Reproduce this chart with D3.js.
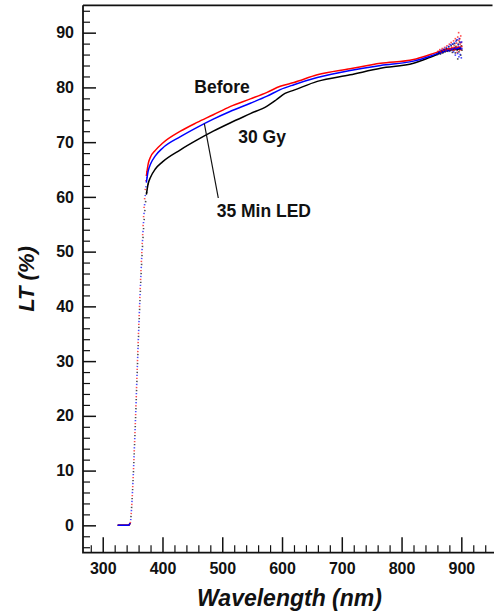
<!DOCTYPE html>
<html>
<head>
<meta charset="utf-8">
<script src="https://cdn.jsdelivr.net/npm/d3@7"></script>
<style>
  html, body { margin: 0; padding: 0; background: #fff; }
  svg { display: block; font-family: "Liberation Sans", Arial, Helvetica, sans-serif; }
</style>
</head>
<body>
<svg id="chart" width="494" height="614"></svg>
<script>
// Light transmittance LT (%) against wavelength (nm)
const before = [[325,0],[343,0],[346,0.4],[349,4.5],[352,11.5],[355,20],[358,29.5],[361,38.5],[364,46.5],[367,53.5],[370,59.5],[373,63.8],[376,66.0],[380,67.3],[388,68.5],[400,69.8],[430,72.0],[458,73.6],[485,75.0],[513,76.5],[547,77.9],[575,79.1],[597,80.2],[620,80.9],[659,82.3],[714,83.4],[765,84.4],[820,85.1],[848,86.0],[876,87.0],[900,87.4]];
const gy30 = [[325,0],[343,0],[346,0.4],[349,4.5],[352,11.3],[355,19.7],[358,28.8],[361,37.5],[364,45.3],[367,51.8],[370,56.8],[373,60.4],[376,62.4],[380,63.6],[388,65.1],[400,66.4],[430,68.6],[458,70.4],[485,72.0],[513,73.5],[547,75.2],[575,76.6],[590,77.7],[605,78.9],[620,79.5],[659,81.1],[714,82.3],[765,83.5],[820,84.4],[848,85.5],[876,86.7],[900,87.0]];
const led35 = [[325,0],[343,0],[346,0.4],[349,4.5],[352,11.5],[355,20],[358,29.3],[361,38],[364,46],[367,52.8],[370,58.5],[373,62.6],[376,64.7],[380,66.0],[388,67.5],[400,68.9],[430,71.0],[458,72.7],[485,74.2],[513,75.6],[547,77.1],[575,78.4],[597,79.6],[620,80.5],[659,81.8],[714,83.1],[765,84.0],[820,84.8],[848,85.7],[876,86.8],[900,87.2]];

// Noisy readings near the long-wavelength end of the detector
const beforeTail = [[861,86.6],[864,86.9],[866,86.5],[868,87.1],[870,86.8],[872,87.3],[874,86.7],[876,87.6],[878,87.0],[880,87.9],[881,86.9],[883,88.2],[884,87.3],[886,86.8],[887,88.5],[888,87.6],[889,86.9],[890,88.9],[891,87.2],[892,88.1],[893,86.4],[894,89.2],[895,87.5],[895.5,90.0],[896,88.6],[897,86.8],[897.5,88.9],[898,87.9],[899,89.4],[899.5,86.9],[900,88.2],[901,87.5]];
const gy30Tail = [[860,86.0],[862,86.3],[865,86.1],[867,86.6],[869,86.3],[871,86.9],[873,86.5],[875,87.1],[877,86.6],[879,87.4],[881,86.7],[883,87.6],[885,86.4],[886,87.9],[888,86.9],[889,88.0],[890,86.3],[891,87.5],[892,88.6],[893,86.8],[894,85.2],[895,87.9],[896,86.5],[897,88.3],[898,87.1],[899,85.9],[900,87.6],[901,86.8]];
const led35Tail = [[860,86.1],[863,86.5],[865,86.2],[867,86.8],[869,86.4],[871,87.0],[873,86.6],[875,87.3],[877,86.7],[879,87.5],[880,86.6],[882,87.8],[884,86.9],[885,87.9],[887,86.5],[888,88.1],[889,87.2],[890,85.9],[891,88.4],[892,87.0],[893,88.7],[894,86.2],[895,87.8],[896,85.6],[896.5,88.9],[897,87.3],[898,86.0],[898.5,88.2],[899,87.0],[900,85.4],[900.5,88.3],[901,87.1]];

const xMajor = [300, 400, 500, 600, 700, 800, 900];
const yMajor = [0, 10, 20, 30, 40, 50, 60, 70, 80, 90];

// Point on the LED curve that the label's leader touches
const ledLeaderAt = [470, 73.4];

const svg = d3.select("#chart");
const mLeft = 83, mRight = 493, mTop = 5.3, mBottom = 552.7;

const x = d3.scaleLinear().domain([267, 953]).range([mLeft, mRight]);
const y = d3.scaleLinear().domain([-5, 95]).range([mBottom, mTop]);

const xMinor = d3.range(280, 951, 20).filter(v => !xMajor.includes(v));
const yMinor = d3.range(-4, 95, 2).filter(v => !yMajor.includes(v));

const styleText = g => g.selectAll("text")
  .attr("font-size", 16).attr("font-weight", "bold").attr("fill", "#111")
  .attr("font-family", "Liberation Sans, Arial, sans-serif");

// Minor ticks
svg.append("g").attr("transform", `translate(0,${mBottom})`)
  .call(d3.axisBottom(x).tickValues(xMinor).tickSize(-7.5).tickSizeOuter(0).tickFormat(""))
  .call(g => g.select(".domain").remove())
  .call(g => g.selectAll("line").attr("stroke", "#111").attr("stroke-width", 1.2));
svg.append("g").attr("transform", `translate(${mLeft},0)`)
  .call(d3.axisLeft(y).tickValues(yMinor).tickSize(-7).tickSizeOuter(0).tickFormat(""))
  .call(g => g.select(".domain").remove())
  .call(g => g.selectAll("line").attr("stroke", "#111").attr("stroke-width", 1.2));

// Major ticks and labels
svg.append("g").attr("transform", `translate(0,${mBottom})`)
  .call(d3.axisBottom(x).tickValues(xMajor).tickSize(-15.5).tickSizeOuter(0).tickPadding(10).tickFormat(d3.format("d")))
  .call(g => g.select(".domain").remove())
  .call(g => g.selectAll("line").attr("stroke", "#111").attr("stroke-width", 1.5))
  .call(styleText);
svg.append("g").attr("transform", `translate(${mLeft},0)`)
  .call(d3.axisLeft(y).tickValues(yMajor).tickSize(-13).tickSizeOuter(0).tickPadding(9).tickFormat(d3.format("d")))
  .call(g => g.select(".domain").remove())
  .call(g => g.selectAll("line").attr("stroke", "#111").attr("stroke-width", 1.5))
  .call(styleText);

// Frame: left, bottom, top
svg.append("path")
  .attr("d", `M${mLeft},${mTop}V${mBottom}H494M${mLeft},${mTop}H${mRight - 0.5}`)
  .attr("fill", "none").attr("stroke", "#111").attr("stroke-width", 1.8);

// Spectra
const line = d3.line().x(d => x(d[0])).y(d => y(d[1])).curve(d3.curveMonotoneX);
const series = [
  { data: gy30, tail: gy30Tail, color: "#000000", offset: 0 },
  { data: before, tail: beforeTail, color: "#ff0000", offset: 3 },
  { data: led35, tail: led35Tail, color: "#0000ff", offset: 6 }
];
const plot = svg.append("g");

// Steep absorption edge: sparse sample points
series.forEach(s => {
  plot.append("path")
    .datum(s.data.filter(d => d[0] >= 343 && d[0] <= 376))
    .attr("d", line)
    .attr("fill", "none")
    .attr("stroke", s.color)
    .attr("stroke-opacity", 0.7)
    .attr("stroke-width", 1.6)
    .attr("stroke-dasharray", "1.3 7.7")
    .attr("stroke-dashoffset", -s.offset);
});

// Dense parts of each spectrum drawn as continuous lines
series.forEach(s => {
  plot.append("path")
    .datum(s.data.filter(d => d[0] <= 346))
    .attr("d", line)
    .attr("fill", "none").attr("stroke", s.color).attr("stroke-width", 1.5);
  plot.append("path")
    .datum(s.data.filter(d => d[0] >= 373))
    .attr("d", line)
    .attr("fill", "none").attr("stroke", s.color).attr("stroke-width", 1.5);
});

// Noisy end readings
series.forEach(s => {
  plot.selectAll(null).data(s.tail).join("rect")
    .attr("x", d => x(d[0]) - 0.8)
    .attr("y", d => y(d[1]) - 0.8)
    .attr("width", 1.6).attr("height", 1.6)
    .attr("fill", s.color).attr("fill-opacity", 0.7);
});

// Curve labels
const labels = [
  { text: "Before", x: 194.3, y: 93.3 },
  { text: "30 Gy", x: 238.3, y: 142.7 },
  { text: "35 Min LED", x: 216.7, y: 216.7 }
];
svg.append("g").selectAll("text").data(labels).join("text")
  .attr("x", d => d.x).attr("y", d => d.y)
  .attr("font-size", 17.5).attr("font-weight", "bold")
  .attr("fill", "#111")
  .text(d => d.text);

// Leader from the LED label to its curve
svg.append("line")
  .attr("x1", x(ledLeaderAt[0])).attr("y1", y(ledLeaderAt[1]))
  .attr("x2", 218.3).attr("y2", 198)
  .attr("stroke", "#111").attr("stroke-width", 1.2);

// Axis titles
svg.append("text")
  .attr("x", (mLeft + mRight) / 2 + 1.5).attr("y", 606)
  .attr("text-anchor", "middle")
  .attr("font-size", 23).attr("font-weight", "bold").attr("font-style", "italic")
  .attr("fill", "#111")
  .text("Wavelength (nm)");
svg.append("text")
  .attr("transform", "translate(33.5,279) rotate(-90)")
  .attr("text-anchor", "middle")
  .attr("font-size", 22).attr("font-weight", "bold").attr("font-style", "italic")
  .attr("fill", "#111")
  .text("LT (%)");
</script>
</body>
</html>
